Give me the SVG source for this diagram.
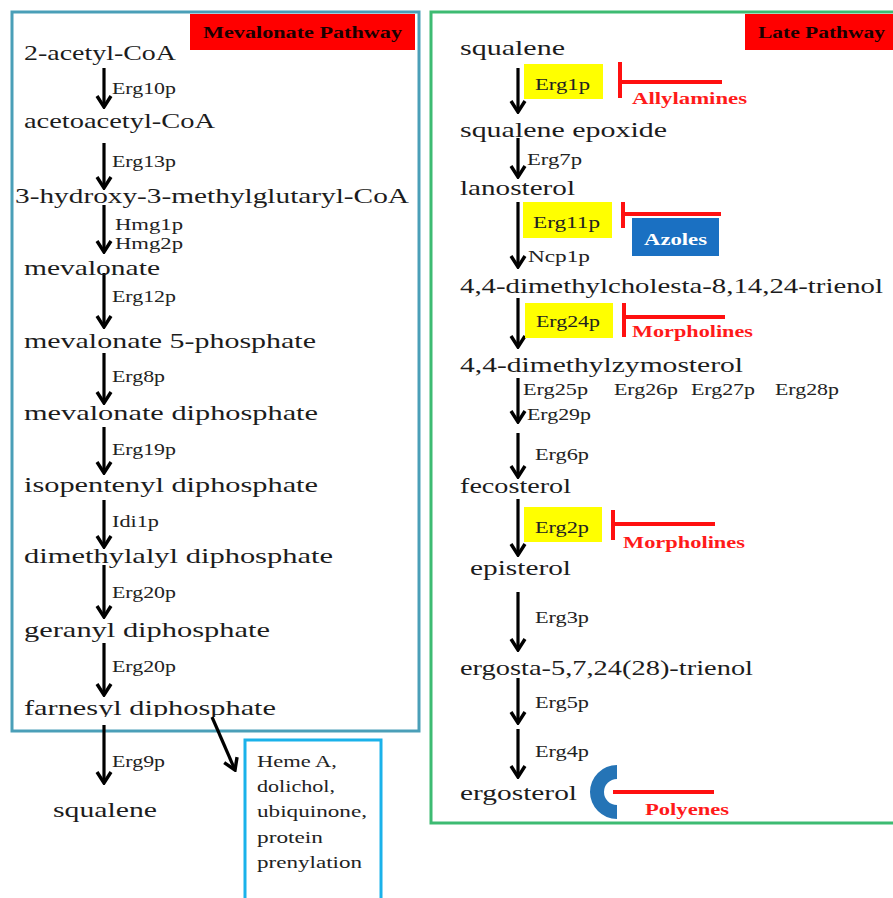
<svg xmlns="http://www.w3.org/2000/svg" width="893" height="898" viewBox="0 0 893 898">
<defs>
<style>
.m{font-family:"Liberation Serif",serif;font-size:22px;fill:#1c1c1c}
.s{font-family:"Liberation Serif",serif;font-size:17px;fill:#222}
.h{font-family:"Liberation Serif",serif;font-size:16px;fill:#222}
.lab{font-family:"Liberation Serif",serif;font-size:16px;font-weight:bold;fill:#1a0000}
.inh{font-family:"Liberation Serif",serif;font-size:16px;font-weight:bold;fill:#ff1a1a}
.az{font-family:"Liberation Serif",serif;font-size:17px;font-weight:bold;fill:#fff}
.arr{stroke:#000;stroke-width:3.2;fill:none;marker-end:url(#ah)}
.t{stroke:#ff1010;stroke-width:4;fill:none}
.yb{fill:#ffff00}
</style>
<marker id="ah" viewBox="-14 -9 16 18" markerWidth="16" markerHeight="18" refX="0" refY="0" orient="auto" markerUnits="userSpaceOnUse">
<path d="M-11,-7 L0,0 L-11,7" fill="none" stroke="#000" stroke-width="3.4"/>
</marker>
<clipPath id="clipF"><rect x="0" y="690" width="420" height="27"/></clipPath>
</defs>
<rect width="893" height="898" fill="#fff"/>

<g id="panels">
<rect x="12" y="12" width="407" height="719" fill="none" stroke="#4a9fb8" stroke-width="3"/>
<rect x="431" y="12" width="480" height="811" fill="none" stroke="#3dbb72" stroke-width="3"/>
<rect x="190" y="14" width="225" height="36" fill="#ff0000"/>
<text class="lab" x="203" y="38" textLength="199" lengthAdjust="spacingAndGlyphs">Mevalonate Pathway</text>
<rect x="745" y="14" width="150" height="36" fill="#ff0000"/>
<text class="lab" x="758" y="38" textLength="127" lengthAdjust="spacingAndGlyphs">Late Pathway</text>
</g>

<g id="connectors">
<line class="arr" x1="104" y1="68" x2="104" y2="107"/>
<line class="arr" x1="104" y1="143" x2="104" y2="188"/>
<line class="arr" x1="104" y1="205" x2="104" y2="252"/>
<line class="arr" x1="104" y1="273" x2="104" y2="327"/>
<line class="arr" x1="104" y1="353" x2="104" y2="403"/>
<line class="arr" x1="104" y1="427" x2="104" y2="473"/>
<line class="arr" x1="104" y1="500" x2="104" y2="547"/>
<line class="arr" x1="104" y1="565" x2="104" y2="617"/>
<line class="arr" x1="104" y1="643" x2="104" y2="695"/>
<line class="arr" x1="104" y1="725" x2="104" y2="783"/>
<line class="arr" x1="212" y1="717" x2="235" y2="770"/>
<line class="arr" x1="518" y1="68" x2="518" y2="112"/>
<line class="arr" x1="518" y1="138" x2="518" y2="177"/>
<line class="arr" x1="518" y1="202" x2="518" y2="267"/>
<line class="arr" x1="518" y1="298" x2="518" y2="347"/>
<line class="arr" x1="518" y1="378" x2="518" y2="422"/>
<line class="arr" x1="518" y1="433" x2="518" y2="477"/>
<line class="arr" x1="518" y1="499" x2="518" y2="555"/>
<line class="arr" x1="518" y1="592" x2="518" y2="650"/>
<line class="arr" x1="518" y1="678" x2="518" y2="723"/>
<line class="arr" x1="518" y1="729" x2="518" y2="777"/>
</g>

<g id="left-nodes">
<g id="acetylcoa"><text class="m" x="24" y="60" textLength="152" lengthAdjust="spacingAndGlyphs">2-acetyl-CoA</text></g>
<g id="acetoacetylcoa"><text class="m" x="24" y="128" textLength="191" lengthAdjust="spacingAndGlyphs">acetoacetyl-CoA</text></g>
<g id="hmgcoa"><text class="m" x="15" y="203" textLength="394" lengthAdjust="spacingAndGlyphs">3-hydroxy-3-methylglutaryl-CoA</text></g>
<g id="mevalonate"><text class="m" x="24" y="275" textLength="136" lengthAdjust="spacingAndGlyphs">mevalonate</text></g>
<g id="mev5p"><text class="m" x="24" y="348" textLength="292" lengthAdjust="spacingAndGlyphs">mevalonate 5-phosphate</text></g>
<g id="mevpp"><text class="m" x="24" y="420" textLength="294" lengthAdjust="spacingAndGlyphs">mevalonate diphosphate</text></g>
<g id="ipp"><text class="m" x="24" y="492" textLength="294" lengthAdjust="spacingAndGlyphs">isopentenyl diphosphate</text></g>
<g id="dmapp"><text class="m" x="24" y="563" textLength="309" lengthAdjust="spacingAndGlyphs">dimethylalyl diphosphate</text></g>
<g id="gpp"><text class="m" x="24" y="637" textLength="246" lengthAdjust="spacingAndGlyphs">geranyl diphosphate</text></g>
<g id="fpp" clip-path="url(#clipF)"><text class="m" x="24" y="715" textLength="252" lengthAdjust="spacingAndGlyphs">farnesyl diphosphate</text></g>
<g id="squalene-left"><text class="m" x="53" y="817" textLength="104" lengthAdjust="spacingAndGlyphs">squalene</text></g>
<g id="heme">
<rect x="245" y="740" width="136" height="200" fill="none" stroke="#1ab2ea" stroke-width="3"/>
<text class="h" x="257" y="767" textLength="80" lengthAdjust="spacingAndGlyphs">Heme A,</text>
<text class="h" x="257" y="792" textLength="78" lengthAdjust="spacingAndGlyphs">dolichol,</text>
<text class="h" x="257" y="817" textLength="110" lengthAdjust="spacingAndGlyphs">ubiquinone,</text>
<text class="h" x="257" y="843" textLength="66" lengthAdjust="spacingAndGlyphs">protein</text>
<text class="h" x="257" y="868" textLength="105" lengthAdjust="spacingAndGlyphs">prenylation</text>
</g>
</g>

<g id="left-enzymes">
<text class="s" x="112" y="94" textLength="64" lengthAdjust="spacingAndGlyphs">Erg10p</text>
<text class="s" x="112" y="167" textLength="64" lengthAdjust="spacingAndGlyphs">Erg13p</text>
<text class="s" x="115" y="230" textLength="68" lengthAdjust="spacingAndGlyphs">Hmg1p</text>
<text class="s" x="115" y="249" textLength="68" lengthAdjust="spacingAndGlyphs">Hmg2p</text>
<text class="s" x="112" y="302" textLength="64" lengthAdjust="spacingAndGlyphs">Erg12p</text>
<text class="s" x="112" y="382" textLength="53" lengthAdjust="spacingAndGlyphs">Erg8p</text>
<text class="s" x="112" y="455" textLength="64" lengthAdjust="spacingAndGlyphs">Erg19p</text>
<text class="s" x="112" y="527" textLength="47" lengthAdjust="spacingAndGlyphs">Idi1p</text>
<text class="s" x="112" y="598" textLength="64" lengthAdjust="spacingAndGlyphs">Erg20p</text>
<text class="s" x="112" y="672" textLength="64" lengthAdjust="spacingAndGlyphs">Erg20p</text>
<text class="s" x="112" y="767" textLength="53" lengthAdjust="spacingAndGlyphs">Erg9p</text>
</g>

<g id="right-nodes">
<g id="squalene"><text class="m" x="460" y="55" textLength="105" lengthAdjust="spacingAndGlyphs">squalene</text></g>
<g id="epoxide"><text class="m" x="460" y="137" textLength="207" lengthAdjust="spacingAndGlyphs">squalene epoxide</text></g>
<g id="lanosterol"><text class="m" x="460" y="195" textLength="115" lengthAdjust="spacingAndGlyphs">lanosterol</text></g>
<g id="trienol"><text class="m" x="460" y="293" textLength="423" lengthAdjust="spacingAndGlyphs">4,4-dimethylcholesta-8,14,24-trienol</text></g>
<g id="zymosterol"><text class="m" x="460" y="372" textLength="283" lengthAdjust="spacingAndGlyphs">4,4-dimethylzymosterol</text></g>
<g id="fecosterol"><text class="m" x="460" y="493" textLength="111" lengthAdjust="spacingAndGlyphs">fecosterol</text></g>
<g id="episterol"><text class="m" x="470" y="575" textLength="101" lengthAdjust="spacingAndGlyphs">episterol</text></g>
<g id="ergosta"><text class="m" x="460" y="675" textLength="293" lengthAdjust="spacingAndGlyphs">ergosta-5,7,24(28)-trienol</text></g>
<g id="ergosterol"><text class="m" x="460" y="800" textLength="117" lengthAdjust="spacingAndGlyphs">ergosterol</text></g>
</g>

<g id="right-enzymes">
<rect class="yb" x="524" y="64" width="79" height="35"/>
<text class="s" x="535" y="90" textLength="55" lengthAdjust="spacingAndGlyphs">Erg1p</text>
<text class="s" x="527" y="165" textLength="55" lengthAdjust="spacingAndGlyphs">Erg7p</text>
<rect class="yb" x="523" y="202" width="89" height="36"/>
<text class="s" x="533" y="228" textLength="67" lengthAdjust="spacingAndGlyphs">Erg11p</text>
<text class="s" x="528" y="262" textLength="62" lengthAdjust="spacingAndGlyphs">Ncp1p</text>
<rect class="yb" x="525" y="303" width="88" height="35"/>
<text class="s" x="536" y="327" textLength="64" lengthAdjust="spacingAndGlyphs">Erg24p</text>
<text class="s" x="523" y="395" textLength="65" lengthAdjust="spacingAndGlyphs">Erg25p</text>
<text class="s" x="614" y="395" textLength="64" lengthAdjust="spacingAndGlyphs">Erg26p</text>
<text class="s" x="691" y="395" textLength="64" lengthAdjust="spacingAndGlyphs">Erg27p</text>
<text class="s" x="775" y="395" textLength="64" lengthAdjust="spacingAndGlyphs">Erg28p</text>
<text class="s" x="527" y="420" textLength="64" lengthAdjust="spacingAndGlyphs">Erg29p</text>
<text class="s" x="535" y="460" textLength="54" lengthAdjust="spacingAndGlyphs">Erg6p</text>
<rect class="yb" x="524" y="507" width="78" height="35"/>
<text class="s" x="535" y="533" textLength="54" lengthAdjust="spacingAndGlyphs">Erg2p</text>
<text class="s" x="535" y="623" textLength="54" lengthAdjust="spacingAndGlyphs">Erg3p</text>
<text class="s" x="535" y="708" textLength="54" lengthAdjust="spacingAndGlyphs">Erg5p</text>
<text class="s" x="535" y="757" textLength="54" lengthAdjust="spacingAndGlyphs">Erg4p</text>
</g>

<g id="inhibitors">
<g id="allylamines">
<path class="t" d="M620,62 V98 M620,82 H722"/>
<text class="inh" x="632" y="104" textLength="115" lengthAdjust="spacingAndGlyphs">Allylamines</text>
</g>
<g id="azoles">
<path class="t" d="M623,202 V228 M623,214 H721"/>
<rect x="632" y="218" width="87" height="38" fill="#1a70c2"/>
<text class="az" x="644" y="245" textLength="63" lengthAdjust="spacingAndGlyphs">Azoles</text>
</g>
<g id="morpholines1">
<path class="t" d="M624,303 V337 M624,317 H725"/>
<text class="inh" x="632" y="337" textLength="121" lengthAdjust="spacingAndGlyphs">Morpholines</text>
</g>
<g id="morpholines2">
<path class="t" d="M613,510 V540 M613,524 H715"/>
<text class="inh" x="623" y="548" textLength="122" lengthAdjust="spacingAndGlyphs">Morpholines</text>
</g>
<g id="polyenes">
<path d="M617,765 A27,27 0 0 0 617,819 L617,805 A13,13 0 0 1 617,779 Z" fill="#2574b6"/>
<path class="t" d="M613,792 H714"/>
<text class="inh" x="645" y="815" textLength="84" lengthAdjust="spacingAndGlyphs">Polyenes</text>
</g>
</g>
</svg>
